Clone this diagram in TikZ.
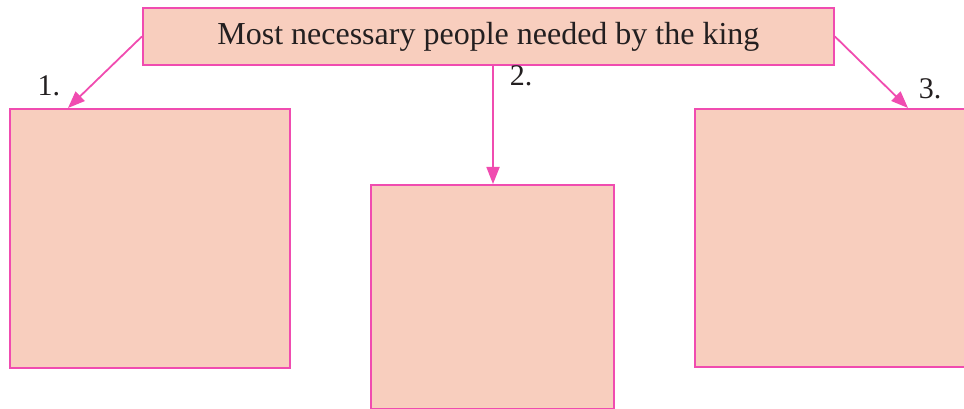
\documentclass[tikz,border=0pt]{standalone}
\usepackage{fontspec}
\setmainfont{Liberation Serif}
\usetikzlibrary{arrows.meta}
\definecolor{boxfill}{RGB}{248,206,190}
\definecolor{boxline}{RGB}{240,76,176}
\definecolor{txt}{RGB}{35,31,32}
\begin{document}
\begin{tikzpicture}[x=1pt,y=-1pt,
  box/.style={draw=boxline,fill=boxfill,line width=1.8pt,rectangle,inner sep=0pt,anchor=north west},
  conn/.style={draw=boxline,line width=1.8pt,-{Triangle[length=17pt,width=13pt]}},
  lab/.style={text=txt,font=\fontsize{30}{34}\selectfont,inner sep=0pt}]
\useasboundingbox (0,0) rectangle (964,409);
\clip (0,0) rectangle (964,409);
\node[box,minimum width=691pt,minimum height=57pt,text=txt,font=\fontsize{32}{36}\selectfont] (top) at (142,7) {Most necessary people needed by the king};
\node[box,minimum width=280pt,minimum height=259pt] (b1) at (9,108) {};
\node[box,minimum width=243pt,minimum height=224pt] (b2) at (370,184) {};
\node[box,minimum width=290pt,minimum height=258pt] (b3) at (694,108) {};
\draw[conn] (top.west) -- ([xshift=59pt]b1.north west);
\draw[conn] ([xshift=351pt]top.south west) -- ([xshift=123pt]b2.north west);
\draw[conn] (top.east) -- ([xshift=214pt]b3.north west);
\node[lab] (l1) at (49,86) {1.};
\node[lab] (l2) at (521,76) {2.};
\node[lab] (l3) at (930,89) {3.};
\end{tikzpicture}
\end{document}
